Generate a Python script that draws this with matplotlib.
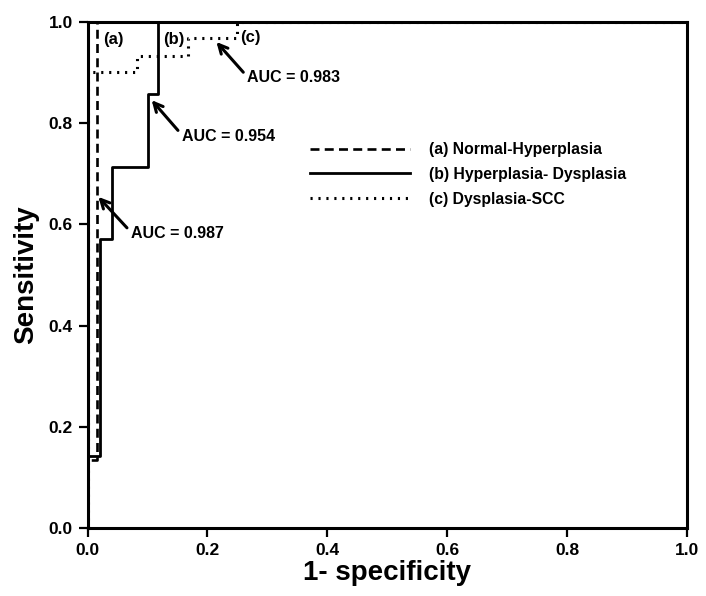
import matplotlib
matplotlib.use("Agg")
import matplotlib.pyplot as plt
from matplotlib.ticker import FormatStrFormatter

plt.rcParams["font.family"] = ["Liberation Sans", "DejaVu Sans"]
plt.rcParams["font.weight"] = "bold"

# ── ROC vertices ─────────────────────────────────────────────────────
fpr_a = [0.0, 0.0, 0.015, 0.015, 1.0]
tpr_a = [0.0, 0.134, 0.134, 1.0, 1.0]

fpr_b = [0.0, 0.0, 0.021, 0.021, 0.04, 0.04, 0.101, 0.101, 0.118, 0.118, 1.0]
tpr_b = [0.0, 0.143, 0.143, 0.571, 0.571, 0.714, 0.714, 0.857, 0.857, 1.0, 1.0]

fpr_c = [0.0, 0.0, 0.083, 0.083, 0.167, 0.167, 0.25, 0.25, 1.0]
tpr_c = [0.0, 0.9, 0.9, 0.933, 0.933, 0.967, 0.967, 1.0, 1.0]

labels = ["(a) Normal-Hyperplasia", "(b) Hyperplasia- Dysplasia", "(c) Dysplasia-SCC"]
auc_labels = ["AUC = 0.987", "AUC = 0.954", "AUC = 0.983"]
ticks = [0.0, 0.2, 0.4, 0.6, 0.8, 1.0]

fig = plt.figure(figsize=(7.06, 5.96), dpi=100)
ax = fig.add_axes([0.124, 0.114, 0.849, 0.8496])

ax.plot(fpr_a, tpr_a, color="black", lw=1.9, dashes=(3.4, 2.0), label=labels[0])
ax.plot(fpr_b, tpr_b, color="black", lw=2.0, label=labels[1])
ax.plot(fpr_c, tpr_c, color="black", lw=2.2, dashes=(0.7, 1.9), label=labels[2])

ax.set_xlim(0, 1)
ax.set_ylim(0, 1)
ax.set_xticks(ticks)
ax.set_yticks(ticks)
ax.xaxis.set_major_formatter(FormatStrFormatter("%.1f"))
ax.yaxis.set_major_formatter(FormatStrFormatter("%.1f"))
ax.tick_params(direction="out", length=6.5, width=1.6, labelsize=12.5, pad=4)
for lab in ax.get_xticklabels() + ax.get_yticklabels():
    lab.set_fontweight("bold")
for sp in ax.spines.values():
    sp.set_linewidth(2.2)

ax.set_xlabel("1- specificity", fontsize=20, fontweight="bold", labelpad=2)
ax.set_ylabel("Sensitivity", fontsize=20, fontweight="bold", labelpad=7)

# curve tags
ax.text(0.026, 0.964, "(a)", fontsize=12, fontweight="bold", va="center")
ax.text(0.126, 0.964, "(b)", fontsize=12, fontweight="bold", va="center")
ax.text(0.254, 0.968, "(c)", fontsize=12, fontweight="bold", va="center")

# AUC annotations
arrow = dict(arrowstyle="->", lw=2.2, color="black", mutation_scale=16,
             shrinkA=1, shrinkB=0, relpos=(0, 0.6))
ax.annotate(auc_labels[0], xy=(0.018, 0.654), xytext=(0.072, 0.582),
            fontsize=11.5, fontweight="bold", va="center", arrowprops=arrow)
ax.annotate(auc_labels[1], xy=(0.107, 0.845), xytext=(0.157, 0.774),
            fontsize=11.5, fontweight="bold", va="center", arrowprops=arrow)
ax.annotate(auc_labels[2], xy=(0.215, 0.960), xytext=(0.266, 0.889),
            fontsize=11.5, fontweight="bold", va="center", arrowprops=arrow)

leg = ax.legend(loc="upper left", bbox_to_anchor=(0.371, 0.762), frameon=False,
                fontsize=11.3, handlelength=6.4, handletextpad=1.2,
                labelspacing=0.62, borderpad=0, borderaxespad=0)
for t in leg.get_texts():
    t.set_fontweight("bold")

fig.savefig("out.png", dpi=100)
